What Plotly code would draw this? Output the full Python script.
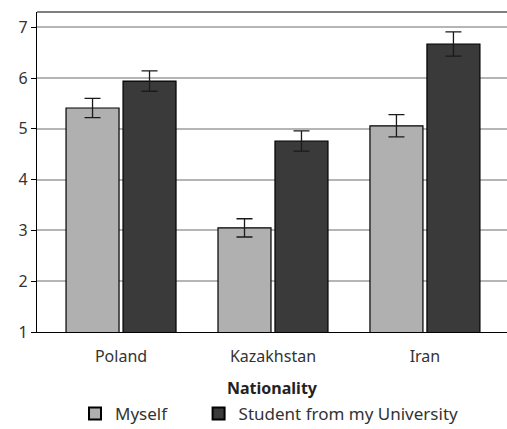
import plotly.graph_objects as go

categories = ["Poland", "Kazakhstan", "Iran"]
myself = [5.41, 3.05, 5.06]
myself_err = [0.19, 0.18, 0.22]
student = [5.94, 4.76, 6.67]
student_err = [0.20, 0.20, 0.24]
y_ticks = [1, 2, 3, 4, 5, 6, 7]
series_names = ["Myself", "Student from my University"]

FONT = "Noto Sans"
PAD = "\u00a0" * 6  # extra spacing after first legend entry

fig = go.Figure()
fig.add_trace(go.Bar(
    name=series_names[0] + PAD, x=categories, y=myself,
    marker=dict(color="#b0b0b0", line=dict(color="#000000", width=1.2)),
    error_y=dict(type="data", array=myself_err, color="#1a1a1a", thickness=1.3, width=8),
))
fig.add_trace(go.Bar(
    name=series_names[1], x=categories, y=student,
    marker=dict(color="#3a3a3a", line=dict(color="#000000", width=1.2)),
    error_y=dict(type="data", array=student_err, color="#1a1a1a", thickness=1.3, width=8),
))

fig.update_layout(
    width=507, height=429,
    margin=dict(l=37, r=0, t=12, b=97, autoexpand=False),
    paper_bgcolor="white", plot_bgcolor="white",
    barmode="group", bargap=0.25, bargroupgap=0.07,
    font=dict(family=FONT, size=16, color="#333333"),
    showlegend=True,
    legend=dict(orientation="h", x=0.4947, xanchor="center", y=-0.2, yanchor="top",
                font=dict(size=17, color="#333333"), itemsizing="constant",
                traceorder="normal"),
    xaxis=dict(range=[-0.553, 2.54], showline=True, linecolor="#000000", linewidth=1.2,
               ticks="outside", ticklen=10, tickcolor="rgba(0,0,0,0)", showgrid=False,
               title=dict(text="<b>Nationality</b>", font=dict(size=16, color="#222222"), standoff=16)),
    yaxis=dict(range=[1, 7.3], tickvals=y_ticks, showline=True, linecolor="#000000", linewidth=1.2,
               ticks="outside", ticklen=5, tickcolor="#000000", showgrid=True,
               gridcolor="#b5b5b5", gridwidth=1.5, zeroline=False),
    shapes=[dict(type="line", xref="paper", yref="paper", x0=0, x1=1, y0=1, y1=1,
                 line=dict(color="#000000", width=1.2))],
)

fig.write_html("out.html", config={"displayModeBar": False},
               post_script="document.body.style.margin='0';document.body.style.overflow='hidden';")
